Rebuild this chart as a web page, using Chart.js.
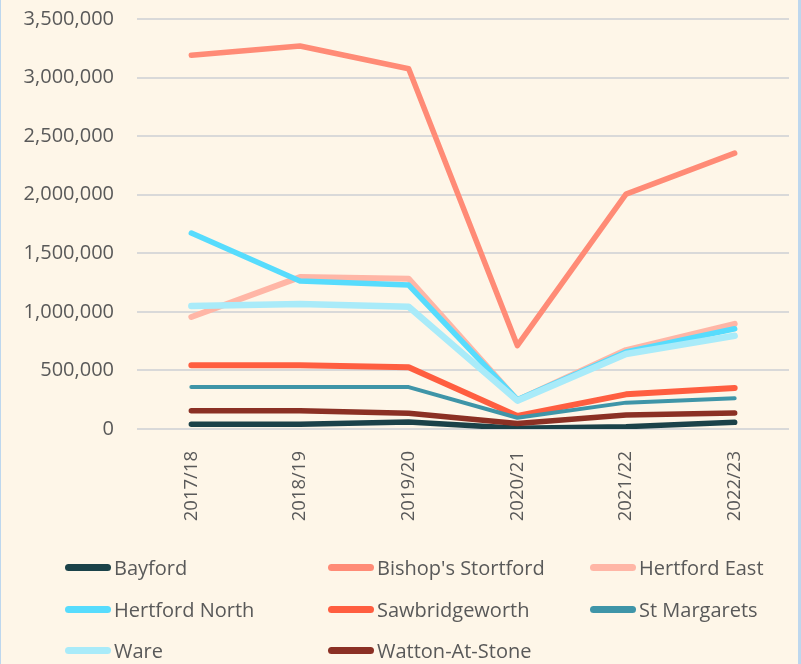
<!DOCTYPE html>
<html>
<head>
<meta charset="utf-8">
<script src="https://cdn.jsdelivr.net/npm/chart.js@4"></script>
<style>
  html, body { margin: 0; padding: 0; background: #fef6e8; }
  #wrap { position: relative; width: 801px; height: 664px; background: #fef6e8; overflow: hidden; }
  #wrap canvas { position: absolute; left: 0; top: 0; }
  .edge { position: absolute; top: 0; height: 664px; background: #bdd7ee; }
  .item { position: absolute; height: 24px; display: flex; align-items: center;
          font-family: "Open Sans", sans-serif; font-size: 20px; color: #595959; white-space: nowrap; }
  .item .swatch { width: 46px; height: 7px; border-radius: 4px; margin-right: 3px; }
</style>
</head>
<body>
<div id="wrap">
  <canvas id="trafficChart" width="801" height="664"></canvas>
  <div class="edge" style="left:0;width:1px"></div>
  <div class="edge" style="left:798px;width:3px"></div>
  <div id="legend"></div>
</div>
<script>
// Station usage by year
const years = ['2017/18', '2018/19', '2019/20', '2020/21', '2021/22', '2022/23'];
const stations = ['Bayford', "Bishop's Stortford", 'Hertford East', 'Hertford North',
                  'Sawbridgeworth', 'St Margarets', 'Ware', 'Watton-At-Stone'];

const bayford = [40000, 40000, 60000, 6000, 20000, 57000];
const bishopsStortford = [3190000, 3270000, 3075000, 712000, 2005000, 2355000];
const hertfordEast = [956000, 1297000, 1282000, 245000, 674000, 898000];
const hertfordNorth = [1673000, 1263000, 1229000, 250000, 657000, 856000];
const sawbridgeworth = [544000, 544000, 527000, 112000, 296000, 350000];
const stMargarets = [358000, 358000, 358000, 96000, 225000, 262000];
const ware = [1050000, 1067000, 1044000, 242000, 640000, 796000];
const wattonAtStone = [156000, 156000, 134000, 46000, 119000, 137000];

const yTicksMax = 3500000;
const yTicksStep = 500000;

const seriesValues = [bayford, bishopsStortford, hertfordEast, hertfordNorth,
                      sawbridgeworth, stMargarets, ware, wattonAtStone];
const colors = ['#1b4249', '#ff8b76', '#ffb6a6', '#57dcfd', '#ff5e40', '#3f95a8', '#a9ebf9', '#8b3024'];
const widths = [5.5, 5.5, 6, 5.5, 6, 4, 6.5, 5.5];

document.addEventListener('DOMContentLoaded', function() {
    const ctx = document.getElementById('trafficChart').getContext('2d');
    const chart = new Chart(ctx, {
        type: 'line',
        data: {
            labels: years,
            datasets: stations.map((name, i) => ({
                label: name,
                data: seriesValues[i],
                borderColor: colors[i],
                backgroundColor: colors[i],
                borderWidth: widths[i],
                borderCapStyle: 'round',
                borderJoinStyle: 'round',
                pointRadius: 0,
                tension: 0,
                order: -i // later series on top, like the original
            }))
        },
        options: {
            responsive: false,
            animation: false,
            layout: { padding: { top: 19, right: 12, bottom: 122, left: 0 } },
            plugins: { legend: { display: false }, tooltip: { enabled: false } },
            scales: {
                x: {
                    offset: true,
                    grid: { display: false },
                    border: { display: false },
                    afterFit: (scale) => { scale.height = 664 - 122 - 429; scale.paddingTop = 0; scale.paddingBottom = 0; },
                    ticks: {
                        color: '#595959',
                        font: { family: 'Open Sans', size: 18.5 },
                        minRotation: 90,
                        maxRotation: 90,
                        padding: 14
                    }
                },
                y: {
                    min: 0,
                    max: yTicksMax,
                    afterFit: (scale) => { scale.width = 137; scale.paddingTop = 0; scale.paddingBottom = 0; },
                    border: { display: false },
                    grid: { color: '#d9d9d9', lineWidth: 2, drawTicks: false },
                    ticks: {
                        stepSize: yTicksStep,
                        color: '#595959',
                        font: { family: 'Open Sans', size: 20 },
                        padding: 23,
                        callback: (v) => v.toLocaleString('en-US')
                    }
                }
            }
        }
    });

    // Legend in a 3-column grid
    const legend = document.getElementById('legend');
    const colX = [65, 328, 590];
    const rowY = [567, 609, 650];
    chart.data.datasets.forEach((ds, i) => {
        const item = document.createElement('div');
        item.className = 'item';
        item.style.left = colX[i % 3] + 'px';
        item.style.top = (rowY[Math.floor(i / 3)] - 12) + 'px';
        const sw = document.createElement('span');
        sw.className = 'swatch';
        sw.style.background = ds.borderColor;
        item.appendChild(sw);
        item.appendChild(document.createTextNode(ds.label));
        legend.appendChild(item);
    });
});
</script>
</body>
</html>
